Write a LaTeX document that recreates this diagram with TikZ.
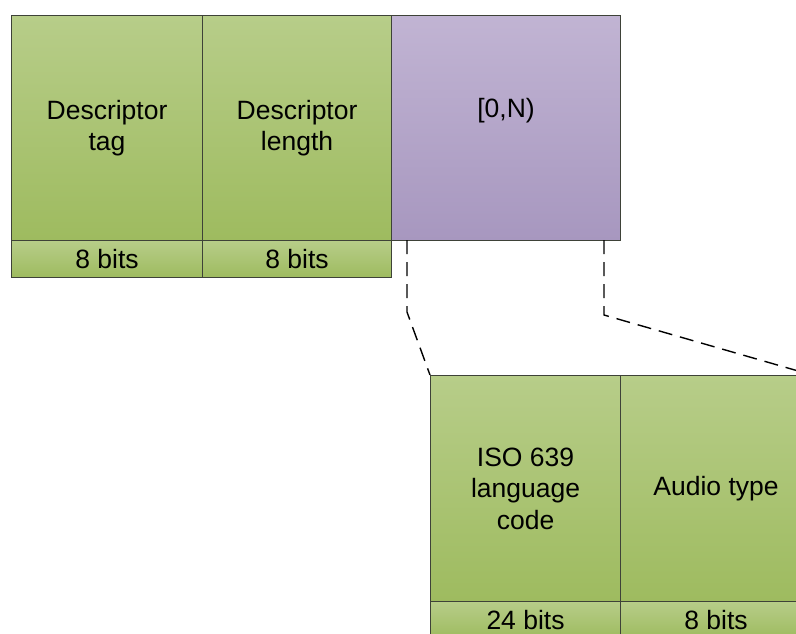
\documentclass[tikz,border=0pt]{standalone}
\usepackage{fontspec}
\setmainfont{Liberation Sans}
\usepackage{tikz}

\definecolor{greentop}{RGB}{183,205,137}
\definecolor{greenbot}{RGB}{158,187,95}
\definecolor{purpletop}{RGB}{193,180,211}
\definecolor{purplebot}{RGB}{167,151,191}
\definecolor{edgecol}{RGB}{62,66,56}

\tikzset{
  field/.style={draw=edgecol, line width=1.1pt, top color=greentop, bottom color=greenbot,
    anchor=north west, inner sep=0pt, align=center, minimum height=225pt},
  loopfield/.style={field, top color=purpletop, bottom color=purplebot},
  bitsfield/.style={field, minimum height=37pt},
  zoomline/.style={line width=1.4pt, dash pattern=on 14pt off 8pt}
}

\begin{document}
\begin{tikzpicture}[x=1pt, y=-1pt]
\fontsize{26.5}{31.5}\selectfont
\useasboundingbox (0,0) rectangle (796,633);
\clip (0,0) rectangle (796,633);
% descriptor header
\node (tag) at (11,15) [field, minimum width=191pt] {Descriptor\\tag};
\node (len) at (202,15) [field, minimum width=189pt] {Descriptor\\length};
\node (loop) at (391,15) [loopfield, minimum width=229pt] {[0,N)\\ \strut};
\node (tagbits) at (11,240) [bitsfield, minimum width=191pt] {8 bits};
\node (lenbits) at (202,240) [bitsfield, minimum width=189pt] {8 bits};
% loop entry
\node (iso) at (430,375) [field, minimum width=190pt, minimum height=226pt] {ISO 639\\language\\code};
\node (audio) at (620,375) [field, minimum width=191pt, minimum height=226pt] {Audio type};
\node (isobits) at (430,601) [bitsfield, minimum width=190pt] {24 bits};
\node (audiobits) at (620,601) [bitsfield, minimum width=191pt] {8 bits};
% zoom lines
\coordinate (lstart) at (407,240);
\coordinate (lbend) at (407,312);
\coordinate (rstart) at (604,240);
\coordinate (rbend) at (604,315);
\draw[zoomline] (lstart) -- (lbend) -- (iso.north west);
\draw[zoomline] (rstart) -- (rbend) -- (audio.north east);
\end{tikzpicture}
\end{document}
